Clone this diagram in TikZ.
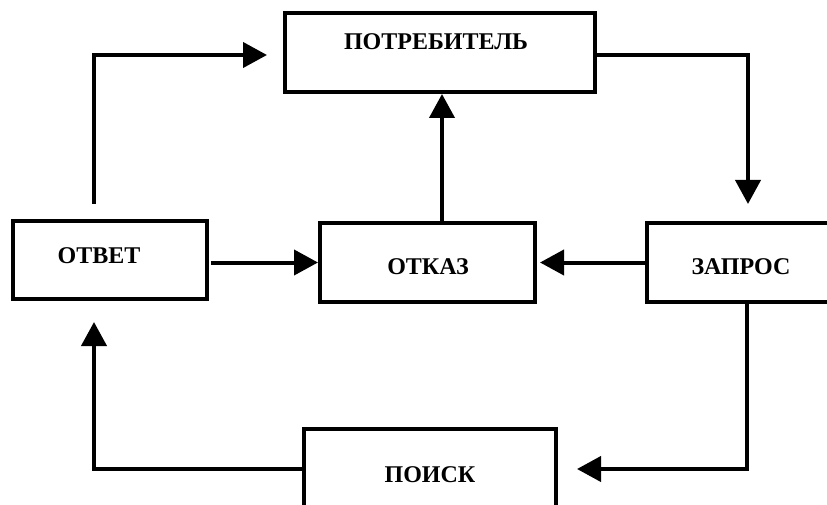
\documentclass[tikz,border=0pt]{standalone}
\usepackage{fontspec}
\setmainfont{Liberation Serif}
\usetikzlibrary{arrows.meta}

\begin{document}
\begin{tikzpicture}[x=1pt,y=-1pt,
    box/.style={draw,line width=4pt,rectangle,inner sep=0pt},
    lbl/.style={font=\fontsize{24}{28}\selectfont\bfseries,inner sep=0pt},
    arr/.style={line width=4pt,-{Triangle[length=24pt,width=25pt]}}]
                        \useasboundingbox (0,0) rectangle (827,505);

                        % boxes
                        \node[box,minimum width=310pt,minimum height=79pt] (potr) at (440,52.5) {};
                        \node[box,minimum width=194pt,minimum height=78pt] (otvet) at (110,260) {};
                        \node[box,minimum width=215pt,minimum height=79pt] (otkaz) at (427.5,262.5) {};
                        \node[box,minimum width=260pt,minimum height=79pt] (zapros) at (777,262.5) {};
                        \node[box,minimum width=252pt,minimum height=80pt] (poisk) at (430,469) {};

                        % labels
                        \node[lbl] (potrtxt) at (436,42) {ПОТРЕБИТЕЛЬ};
                        \node[lbl] (otvettxt) at (99,256) {ОТВЕТ};
                        \node[lbl] (otkaztxt) at (428,267) {ОТКАЗ};
                        \node[lbl] (zaprostxt) at (741,267) {ЗАПРОС};
                        \node[lbl] (poisktxt) at (430,475) {ПОИСК};

                        % connectors
                        \draw[arr] ([xshift=-16pt,yshift=15pt]otvet.north) |- ([xshift=-16pt,yshift=-2.5pt]potr.west);
                        \draw[arr] ([xshift=2pt]otvet.east |- otkaz.west) -- (otkaz.west);
                        \draw[arr] ([xshift=14.5pt]otkaz.north) -- ([xshift=14.5pt]otkaz.north |- potr.south);
                        \draw[arr] ([yshift=-2.5pt]potr.east) -| ([xshift=-29pt,yshift=17pt]zapros.north);
                        \draw[arr] (zapros.west) -- ([xshift=3pt]otkaz.east);
                        \draw[arr] ([xshift=-30pt]zapros.south) |- ([xshift=19pt]poisk.east);
                        \draw[arr] (poisk.west) -| ([xshift=-16pt,yshift=-21pt]otvet.south);
                    \end{tikzpicture}
\end{document}
